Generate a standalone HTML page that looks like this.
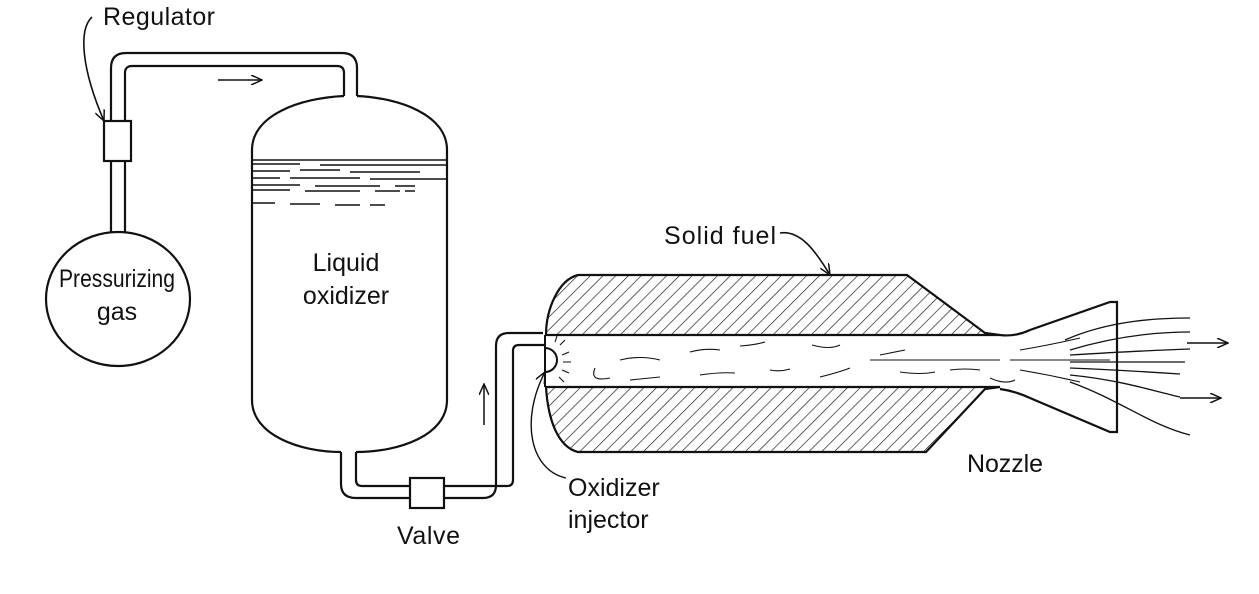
<!DOCTYPE html>
<html><head><meta charset="utf-8"><style>
html,body{margin:0;padding:0;background:#fff;}
svg{display:block;}
text{font-family:"Liberation Sans",sans-serif;font-size:25px;fill:#111;}
</style></head><body>
<svg width="1259" height="594" viewBox="0 0 1259 594" xmlns="http://www.w3.org/2000/svg">
<defs>
<pattern id="h" width="9" height="9" patternUnits="userSpaceOnUse" patternTransform="rotate(45)">
<line x1="0" y1="0" x2="0" y2="9" stroke="#111" stroke-width="1.3"/>
</pattern>
<marker id="a" markerWidth="12" markerHeight="10" refX="11" refY="5" orient="auto" markerUnits="userSpaceOnUse">
<path d="M0,0 L11,5 L0,10" fill="none" stroke="#111" stroke-width="1.5"/>
</marker>
</defs>
<g fill="none" stroke="#111" stroke-width="2.2">
<path d="M111,121 V68 Q111,53 126,53 H342 Q357,53 357,68 V96"/>
<path d="M125,121 V73 Q125,66 132,66 H337 Q344,66 344,73 V96"/>
<rect x="104" y="121" width="27" height="40"/>
<path d="M111,161 V232 M125,161 V232"/>
<ellipse cx="118" cy="299" rx="72" ry="67"/>
<path d="M344,96 C300,98 252,115 252,150 V400 C252,435 300,452 341,452 M357,96 C400,98 447,115 447,150 V400 C447,435 400,452 356,452"/>
<path d="M341,452 V484 Q341,498 356,498 H410 M444,498 H483 Q496,498 496,485 V346 Q496,333 509,333 H543"/>
<path d="M356,452 V480 Q356,486 362,486 H410 M444,486 H507 Q513,486 513,480 V351 Q513,345 519,345 H545"/>
<rect x="410" y="478" width="34" height="30"/>
</g>
<g stroke="#111" stroke-width="1.4">
<path d="M252,160 H447 M252,164 H300 M320,165 H447 M252,171 H290 M300,170 H340 M350,172 H420 M252,178 H280 M290,178 H360 M370,179 H447 M252,185 H300 M315,186 H380 M395,186 H415 M252,190 H290 M305,191 H360 M375,191 H400 M405,191 H415 M252,203 H275 M290,204 H320 M335,205 H360 M370,205 H385"/>
</g>
<path d="M218,80 H262" stroke="#111" stroke-width="1.5" marker-end="url(#a)"/>
<path d="M484,425 V384" stroke="#111" stroke-width="1.5" marker-end="url(#a)"/>
<path d="M92,17 C78,30 82,70 104,121" fill="none" stroke="#111" stroke-width="1.6" marker-end="url(#a)"/>
<path d="M578,275 H907 L985,333 L1000,335 H546 C546,310 558,280 578,275 Z" fill="url(#h)" stroke="#111" stroke-width="2.2"/>
<path d="M546,387 H1000 L985,389 L926,452 H578 C558,447 548,420 546,387 Z" fill="url(#h)" stroke="#111" stroke-width="2.2"/>
<path d="M545,335 V387" stroke="#111" stroke-width="2"/>
<path d="M1000,335 Q1015,337 1030,330 L1110,302 H1117 V432 H1110 L1030,398 Q1015,391 1000,389" fill="none" stroke="#111" stroke-width="2.2"/>
<path d="M545,348 A12,12 0 0 1 545,372" fill="none" stroke="#111" stroke-width="2"/>
<g stroke="#111" stroke-width="1.1" fill="none">
<path d="M560,345 L565,340 M562,355 L569,352 M563,362 L571,362 M562,370 L569,373 M559,377 L564,382 M555,342 L557,336"/>
<path d="M595,368 C590,380 600,380 610,378 M620,360 Q640,355 660,360 M690,352 Q705,348 720,350 M740,346 Q755,345 765,342 M812,345 Q830,350 840,345 M880,355 Q895,352 905,350 M700,375 Q720,372 735,373 M770,370 Q780,372 790,369 M630,380 Q650,378 660,377 M820,377 Q840,372 850,368 M900,372 Q920,375 935,372 M950,370 Q965,368 980,370 M870,360 H1000 M1010,360 H1110 M1020,370 Q1050,375 1080,382 M1020,350 Q1050,345 1080,338 M990,378 Q1005,385 1015,380"/>
</g>
<g stroke="#111" stroke-width="1.3" fill="none">
<path d="M1065,340 C1110,320 1160,318 1190,318"/>
<path d="M1070,350 C1120,335 1160,332 1190,332"/>
<path d="M1070,355 C1120,352 1160,350 1190,349"/>
<path d="M1070,362 H1185"/>
<path d="M1070,368 C1120,370 1150,372 1180,374"/>
<path d="M1070,375 C1120,380 1150,390 1180,397"/>
<path d="M1070,382 C1120,400 1150,425 1190,435"/>
</g>
<path d="M1187,343 H1228" stroke="#111" stroke-width="1.5" marker-end="url(#a)"/>
<path d="M1180,398 H1221" stroke="#111" stroke-width="1.5" marker-end="url(#a)"/>
<path d="M780,233 C800,230 815,250 830,275" fill="none" stroke="#111" stroke-width="1.6" marker-end="url(#a)"/>
<path d="M566,478 C530,470 520,420 545,372" fill="none" stroke="#111" stroke-width="1.4" marker-end="url(#a)"/>
<text x="103" y="25" textLength="112">Regulator</text>
<text x="59" y="287" font-size="22" textLength="116" lengthAdjust="spacingAndGlyphs">Pressurizing</text>
<text x="117" y="320" text-anchor="middle" font-size="22">gas</text>
<text x="346" y="271" text-anchor="middle">Liquid</text>
<text x="346" y="304" text-anchor="middle">oxidizer</text>
<text x="397" y="544" textLength="63">Valve</text>
<text x="664" y="244" textLength="112">Solid fuel</text>
<text x="967" y="472" textLength="76">Nozzle</text>
<text x="568" y="496">Oxidizer</text>
<text x="568" y="528">injector</text>
</svg>
</body></html>
